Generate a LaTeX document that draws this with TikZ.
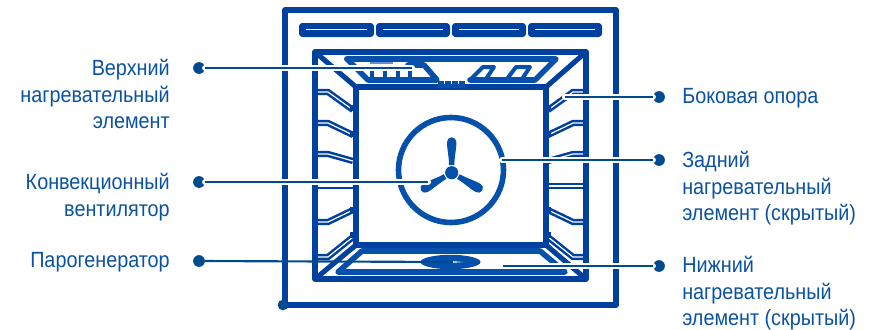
\documentclass[tikz,border=0pt]{standalone}
\usepackage{fontspec}
\setmainfont{Liberation Sans}[FakeStretch=0.9]
\usetikzlibrary{positioning, calc}
\definecolor{clrframe}{HTML}{0041A0}
\definecolor{clrelement}{HTML}{0550AA}
\definecolor{clrleader}{HTML}{004A8F}
\definecolor{clrtext}{HTML}{0B52A0}
\definecolor{clrstrip}{HTML}{6A92CC}

\begin{document}
\begin{tikzpicture}[
    x=0.75pt, y=-0.75pt,
    every node/.style={font=\fontsize{16.5}{20}\selectfont},
    frameline/.style={draw=clrframe, line width=4.3pt, line join=round},
    thinframe/.style={draw=clrframe, line width=3.8pt, line join=round},
    slotbox/.style={fill=clrframe, rounded corners=2.5pt},
    slit/.style={draw=white, line width=1.2pt},
    railband/.style={draw=clrframe, line width=1.9pt, double=white, double distance=0.9pt},
    heater/.style={draw=clrelement, line width=4.2pt, line cap=round, line join=round},
    heaterthin/.style={draw=clrelement, line width=3pt, line join=round},
    halo/.style={draw=white, line width=4.6pt, line cap=round},
    leader/.style={draw=clrleader, line width=1.6pt},
    leaderdot/.style={circle, fill=clrleader, inner sep=0pt, minimum size=8.8pt},
    lefttext/.style={anchor=north east, align=right, inner sep=0pt, text=clrtext},
    righttext/.style={anchor=north west, align=left, inner sep=0pt, text=clrtext},
]
\useasboundingbox (0,0) rectangle (874,329);
\draw[frameline] (285,10) rectangle (616,305);
\node[circle, fill=clrleader, inner sep=0pt, minimum size=8pt] (corner_dot) at (283,305) {};
\foreach \slotleft/\slotright in {299/374, 376/450, 452/526, 528/602} {
  \fill[slotbox] (\slotleft,23) rectangle (\slotright,37);
  \draw[slit] (\slotleft+7,29.5) -- (\slotright-7,29.5);
}
\foreach \railouter/\railinner in {92/110, 123/135, 154/161, 186/186, 222/210, 257/237} {
  \draw[railband] (317,\railouter) -- (328,\railouter) -- (353,\railinner);
  \draw[railband] (584,\railouter) -- (573,\railouter) -- (548,\railinner);
}
\foreach \railinner in {108, 134, 210, 235} {
  \fill[clrframe] (350,\railinner-3) rectangle (356,\railinner+3);
  \fill[clrframe] (545,\railinner-3) rectangle (551,\railinner+3);
}
\draw[frameline] (315,52) rectangle (586,279);
\draw[frameline] (356,87) rectangle (546,245);
\draw[thinframe] (315,52) -- (356,87);
\draw[thinframe] (586,52) -- (546,87);
\draw[thinframe] (315,279) -- (356,245);
\draw[thinframe] (586,279) -- (546,245);
\foreach \blockx in {441,448,455,462} {
  \fill[clrelement] (\blockx-3,81) rectangle (\blockx+3,88);
}
\draw[heater] (347,59) -- (556,59) -- (535,80) -- (470,80);
\draw[heaterthin] (470,80) -- (483,67) -- (494,67) -- (486,79) -- (507,79) -- (516,67) -- (530,67) -- (522,79);
\draw[heater] (347,59) -- (368,80) -- (437,80) -- (424,65) -- (408,65);
\foreach \toothx in {372,385,398,410} {
  \draw[heaterthin] (\toothx,70) -- (\toothx,78);
}
\draw[clrstrip, line width=1.5pt] (370,63) -- (393,63);
\draw[heater] (338,272) -- (565,272) -- (540,251) -- (362,251) -- cycle;
\fill[clrelement] (450.5,262) ellipse (30 and 7.2);
\fill[white] (453,261.2) -- (463,262) -- (453,262.8) -- cycle;
\draw[draw=clrelement, line width=4.2pt] (451,170) circle (52.5);
\foreach \fanangle in {0,120,240} {
  \fill[clrelement, rotate around={\fanangle:(451.7,172.7)}]
    (449,165) .. controls (449,156) and (447,150) .. (447,142)
    arc[start angle=180, end angle=360, x radius=4.7, y radius=4.7]
    .. controls (456.4,150) and (454.4,156) .. (454.4,165) -- cycle;
}
\fill[clrelement] (451.7,172.7) circle (6.6);
\node[leaderdot] (dot_upper) at (199,68) {};
\node[leaderdot] (dot_fan) at (199,182) {};
\node[leaderdot] (dot_steam) at (199,261) {};
\node[leaderdot] (dot_side) at (659,97) {};
\node[leaderdot] (dot_rear) at (659,160) {};
\node[leaderdot] (dot_lower) at (659,266) {};
\coordinate (end_upper) at (412,68);
\coordinate (end_fan) at (428,182);
\coordinate (end_steam) at (453,262);
\coordinate (end_side) at (565,97);
\coordinate (end_rear) at (502,160);
\coordinate (end_lower) at (503,266);
\draw[halo] (dot_upper.east) -- (end_upper);
\draw[halo] (dot_fan.east) -- (end_fan);
\draw[halo] (dot_side.west) -- (end_side);
\draw[halo] (dot_rear.west) -- (end_rear);
\draw[halo] (dot_lower.west) -- (end_lower);
\draw[leader] (dot_upper) -- (end_upper);
\draw[leader] (dot_fan) -- (end_fan);
\draw[leader] (dot_steam) -- (end_steam);
\draw[leader] (dot_side) -- (end_side);
\draw[leader] (dot_rear) -- (end_rear);
\draw[leader] (dot_lower) -- (end_lower);
\node[lefttext] (lbl_upper) at (170,59) {Верхний\\нагревательный\\элемент};
\node[lefttext] (lbl_fan) at (170,173) {Конвекционный\\вентилятор};
\node[lefttext] (lbl_steam) at (170,252) {Парогенератор};
\node[righttext] (lbl_side) at (682,88) {Боковая опора};
\node[righttext] (lbl_rear) at (682,151) {Задний\\нагревательный\\элемент (скрытый)};
\node[righttext] (lbl_lower) at (682,256) {Нижний\\нагревательный\\элемент (скрытый)};
\end{tikzpicture}
\end{document}
